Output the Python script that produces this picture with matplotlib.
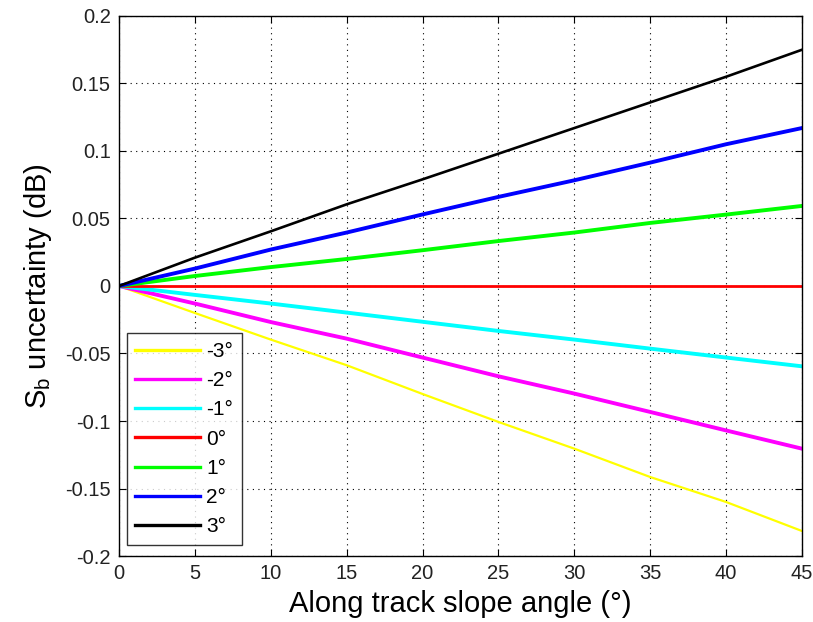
import matplotlib
matplotlib.use("Agg")
import matplotlib.pyplot as plt
from matplotlib.lines import Line2D

plt.rcParams['font.family'] = ['Liberation Sans', 'DejaVu Sans']
plt.rcParams['mathtext.fontset'] = 'custom'
plt.rcParams['mathtext.rm'] = 'Liberation Sans'
plt.rcParams['mathtext.it'] = 'Liberation Sans:italic'

angles = [0, 5, 10, 15, 20, 25, 30, 35, 40, 45]
s_m3 = [0, -0.020, -0.0397, -0.0587, -0.080, -0.1007, -0.1205, -0.1415, -0.160, -0.1815]
s_m2 = [0, -0.013, -0.0267, -0.039, -0.053, -0.0669, -0.0797, -0.0933, -0.107, -0.1205]
s_m1 = [0, -0.0066, -0.013, -0.0197, -0.0265, -0.0333, -0.0397, -0.0464, -0.053, -0.0595]
s_0 = [0, 0, 0, 0, 0, 0, 0, 0, 0, 0]
s_p1 = [0, 0.0074, 0.014, 0.020, 0.0265, 0.0333, 0.0396, 0.0467, 0.0529, 0.0593]
s_p2 = [0, 0.0129, 0.027, 0.0396, 0.053, 0.066, 0.0783, 0.0914, 0.105, 0.117]
s_p3 = [0, 0.021, 0.0405, 0.0605, 0.079, 0.098, 0.117, 0.136, 0.155, 0.175]

labels = ['-3°', '-2°', '-1°', '0°', '1°', '2°', '3°']
colors = ['#ffff00', '#ff00ff', '#00ffff', '#ff0000', '#00ff00', '#0000ff', '#000000']
widths = [1.6, 2.8, 2.8, 2.0, 2.8, 2.8, 1.9]
series = [s_m3, s_m2, s_m1, s_0, s_p1, s_p2, s_p3]

xticks = [0, 5, 10, 15, 20, 25, 30, 35, 40, 45]
yticks = [-0.2, -0.15, -0.1, -0.05, 0, 0.05, 0.1, 0.15, 0.2]
ytick_labels = ['-0.2', '-0.15', '-0.1', '-0.05', '0', '0.05', '0.1', '0.15', '0.2']

fig = plt.figure(figsize=(8.13, 6.22), dpi=100)
ax = fig.add_axes([0.1464, 0.1061, 0.8401, 0.8682])

for y, lab, c, w in zip(series, labels, colors, widths):
    ax.plot(angles, y, color=c, lw=w, label=lab)

ax.set_xlim(0, 45)
ax.set_ylim(-0.2, 0.2)
ax.set_xticks(xticks)
ax.set_yticks(yticks)
ax.set_yticklabels(ytick_labels)
ax.tick_params(direction='in', length=5, width=0.8, top=True, right=True,
               labelsize=14.5, pad=6, labelcolor='#222222')
ax.grid(True, linestyle=(0, (1, 4)), color='black', linewidth=0.8)
for sp in ax.spines.values():
    sp.set_linewidth(1.0)

ax.set_xlabel('Along track slope angle (°)', fontsize=21, labelpad=5)
ax.set_ylabel(r'S$_{\mathrm{b}}$ uncertainty (dB)', fontsize=21, labelpad=8)

leg_handles = [Line2D([0], [0], color=c, lw=2.4) for c in colors]
leg = ax.legend(leg_handles, labels, loc='lower left', bbox_to_anchor=(0.0113, 0.0204),
                borderaxespad=0, fontsize=15, frameon=True, fancybox=False,
                edgecolor='black', handlelength=3.1, handletextpad=0.3,
                labelspacing=0.49, borderpad=0.42)
leg.get_frame().set_linewidth(1.0)

fig.savefig('out.png', dpi=100)
